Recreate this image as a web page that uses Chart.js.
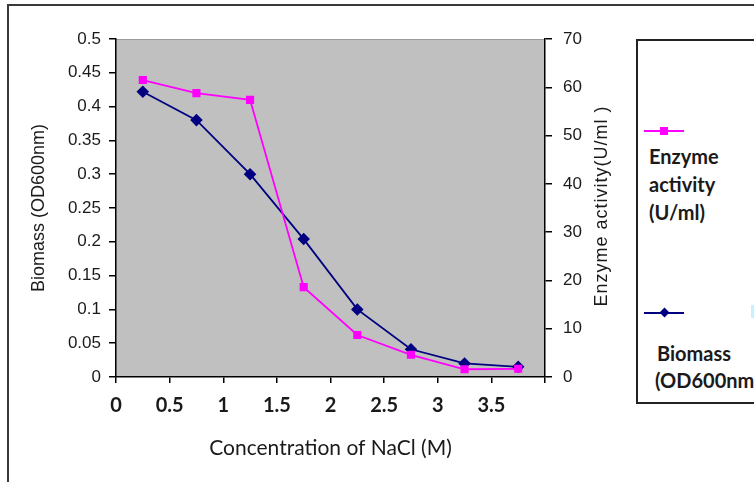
<!DOCTYPE html>
<html>
<head>
<meta charset="utf-8">
<script src="https://cdn.jsdelivr.net/npm/chart.js@4"></script>
<style>
    body { margin: 0; background: #fff; }
    #wrap { position: relative; width: 754px; height: 482px; overflow: hidden; }
    #frame { position: absolute; left: 7px; top: 4px; width: 780px; height: 520px; border: 2px solid #3a3a3a; }
    #chart { position: absolute; left: 0; top: 0; }
    #legend { position: absolute; left: 636px; top: 39px; width: 160px; height: 361px; border: 2px solid #222; background: #fff;
        font-family: Lato, 'Open Sans', sans-serif; font-weight: bold; font-size: 20px; color: #1a1a1a; }
    .line { position: absolute; height: 2px; width: 40px; }
    .mark { position: absolute; width: 8px; height: 8px; }
    .txt { position: absolute; line-height: 28px; white-space: nowrap; }
    #cyan { position: absolute; left: 751px; top: 305px; width: 3px; height: 13px; background: #c6f1ff; }
</style>
</head>
<body>
<div id="wrap">
    <div id="frame"></div>
    <canvas id="chart" width="754" height="482"></canvas>
    <div id="legend">
        <div class="line" style="left:6px; top:89px; background:#ff00ff;"></div>
        <div class="mark" style="left:22px; top:86px; background:#ff00ff;"></div>
        <div class="txt" style="left:11px; top:101px;">Enzyme<br>activity<br>(U/ml)</div>
        <div class="line" style="left:6px; top:271px; background:#000080;"></div>
        <div class="mark" style="left:23px; top:268px; width:7px; height:7px; background:#000080; transform:rotate(45deg);"></div>
        <div class="txt" style="left:19px; top:298px;">Biomass</div>
        <div class="txt" style="left:17px; top:325px;">(OD600nm)</div>
    </div>
    <div id="cyan"></div>
</div>
<script>
// NaCl concentration (M)
const concentration = [0.25, 0.75, 1.25, 1.75, 2.25, 2.75, 3.25, 3.75];
// Biomass (OD600nm), left axis
const biomass = [0.422, 0.380, 0.300, 0.204, 0.100, 0.041, 0.020, 0.015];
// Enzyme activity (U/ml), right axis
const enzymeActivity = [61.5, 58.8, 57.4, 18.6, 8.7, 4.6, 1.6, 1.7];

const xTicks = [0, 0.5, 1, 1.5, 2, 2.5, 3, 3.5, 4];
const xTickLabels = ['0', '0.5', '1', '1.5', '2', '2.5', '3', '3.5', ''];
const biomassTicks = [0, 0.05, 0.1, 0.15, 0.2, 0.25, 0.3, 0.35, 0.4, 0.45, 0.5];
const enzymeTicks = [0, 10, 20, 30, 40, 50, 60, 70];

function toPoints(xs, ys) {
    return xs.map((x, i) => ({ x: x, y: ys[i] }));
}

function setTicks(values) {
    return (scale) => {
        scale.ticks = values.map((v) => ({ value: v }));
    };
}

// grey plot area + right axis title read bottom to top
const plotArea = {
    id: 'plotArea',
    beforeDraw(chart) {
        const { ctx, chartArea: a } = chart;
        ctx.save();
        ctx.fillStyle = '#c0c0c0';
        ctx.fillRect(a.left, a.top, a.right - a.left, a.bottom - a.top);
        ctx.strokeStyle = '#9a9a9a';
        ctx.lineWidth = 1;
        ctx.beginPath();
        ctx.moveTo(a.left, a.top + 0.5);
        ctx.lineTo(a.right, a.top + 0.5);
        ctx.stroke();
        ctx.restore();
    },
    afterDraw(chart) {
        const { ctx, chartArea: a } = chart;
        ctx.save();
        ctx.translate(a.right + 57, (a.top + a.bottom) / 2 - 2);
        ctx.rotate(-Math.PI / 2);
        ctx.font = '18px "Liberation Sans", Arial, sans-serif';
        ctx.letterSpacing = '1px';
        ctx.fillStyle = '#1a1a1a';
        ctx.textAlign = 'center';
        ctx.textBaseline = 'middle';
        ctx.fillText('Enzyme activity(U/ml )', 0, 0);
        ctx.restore();
    }
};

const tickFont = { family: '"Liberation Sans", Arial, sans-serif', size: 17 };

function renderChart() {
    const canvas = document.getElementById('chart');
    new Chart(canvas, {
        type: 'line',
        data: {
            datasets: [
                {
                    label: 'Enzyme activity (U/ml)',
                    data: toPoints(concentration, enzymeActivity),
                    yAxisID: 'yEnzyme',
                    borderColor: '#ff00ff',
                    backgroundColor: '#ff00ff',
                    borderWidth: 1.8,
                    pointStyle: 'rect',
                    pointRadius: 4.5,
                    tension: 0,
                },
                {
                    label: 'Biomass (OD600nm)',
                    data: toPoints(concentration, biomass),
                    yAxisID: 'yBiomass',
                    borderColor: '#000080',
                    backgroundColor: '#000080',
                    borderWidth: 1.8,
                    pointStyle: 'rectRot',
                    pointRadius: 5,
                    tension: 0,
                },
            ],
        },
        options: {
            responsive: false,
            animation: false,
            layout: { padding: { left: 24, right: 0, top: 39, bottom: 17 } },
            plugins: { legend: { display: false }, tooltip: { enabled: false } },
            scales: {
                x: {
                    type: 'linear',
                    min: 0,
                    max: 4,
                    afterBuildTicks: setTicks(xTicks),
                    afterFit: (scale) => { scale.height = 88; },
                    border: { color: '#000', width: 1.5 },
                    grid: { drawOnChartArea: false, color: '#000', tickLength: 6, lineWidth: 1.5 },
                    ticks: {
                        autoSkip: false,
                        maxRotation: 0,
                        padding: 11,
                        color: '#1a1a1a',
                        font: { family: 'Lato, "Open Sans", sans-serif', size: 20, weight: 'bold' },
                        callback: (v, i) => xTickLabels[i],
                    },
                    title: {
                        display: true,
                        text: 'Concentration of NaCl (M)',
                        color: '#1a1a1a',
                        padding: { top: 4, bottom: 4 },
                        font: { family: 'Lato, "Open Sans", sans-serif', size: 21 },
                    },
                },
                yBiomass: {
                    type: 'linear',
                    position: 'left',
                    min: 0,
                    max: 0.5,
                    afterBuildTicks: setTicks(biomassTicks),
                    afterFit: (scale) => { scale.width = 92; },
                    border: { color: '#000', width: 1.5 },
                    grid: { drawOnChartArea: false, color: '#000', tickLength: 7, lineWidth: 1.5 },
                    ticks: {
                        padding: 8,
                        color: '#1a1a1a',
                        font: tickFont,
                        callback: (v) => String(+v.toFixed(2)),
                    },
                    title: {
                        display: true,
                        text: 'Biomass (OD600nm)',
                        color: '#1a1a1a',
                        padding: { top: 4, bottom: 4 },
                        font: { family: '"Liberation Sans", Arial, sans-serif', size: 18 },
                    },
                },
                yEnzyme: {
                    type: 'linear',
                    position: 'right',
                    min: 0,
                    max: 70,
                    afterBuildTicks: setTicks(enzymeTicks),
                    afterFit: (scale) => { scale.width = 209; },
                    border: { color: '#000', width: 1.5 },
                    grid: { drawOnChartArea: false, color: '#000', tickLength: 7, lineWidth: 1.5 },
                    ticks: {
                        padding: 11,
                        color: '#1a1a1a',
                        font: tickFont,
                        callback: (v) => String(v),
                    },
                },
            },
        },
        plugins: [plotArea],
    });
}

renderChart();
</script>
</body>
</html>
